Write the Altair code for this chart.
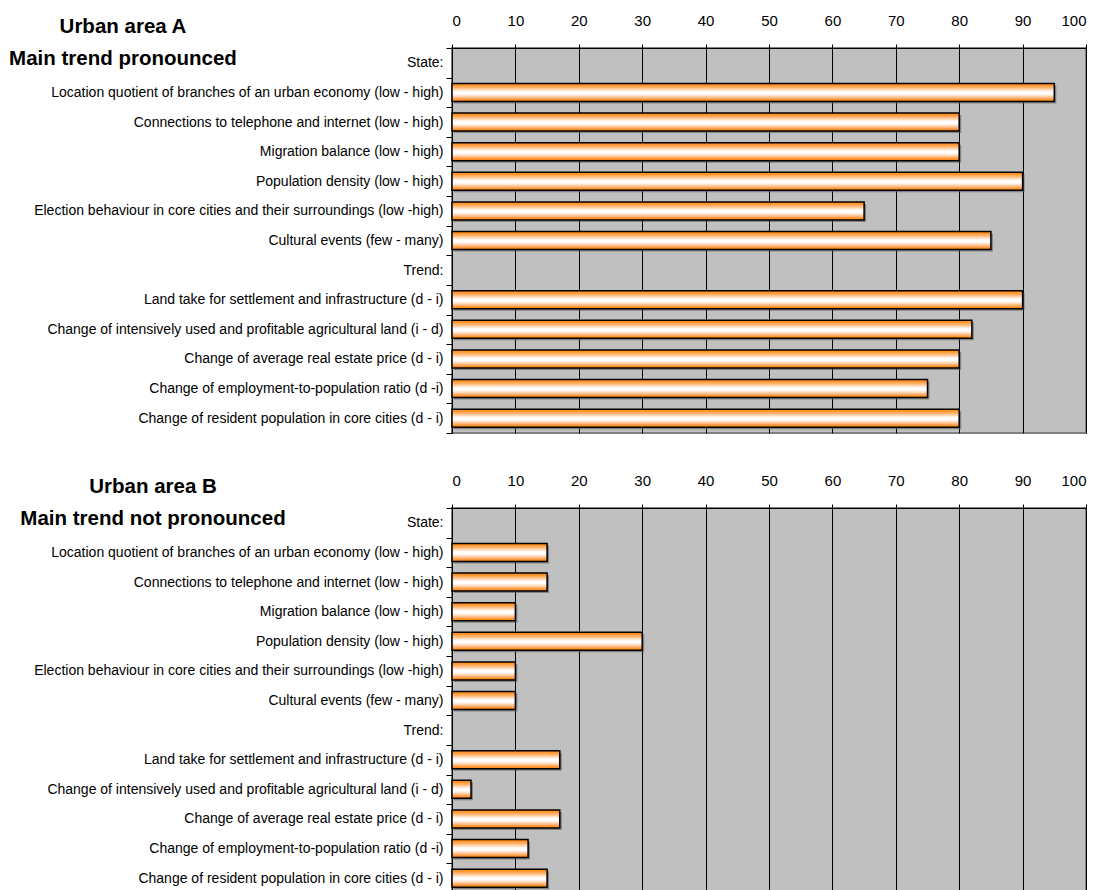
import altair as alt
import pandas as pd

categories = [
    "State:",
    "Location quotient of branches of an urban economy (low - high)",
    "Connections to telephone and internet (low - high)",
    "Migration balance (low - high)",
    "Population density (low - high)",
    "Election behaviour in core cities and their surroundings (low -high)",
    "Cultural events (few - many)",
    "Trend:",
    "Land take for settlement and infrastructure (d - i)",
    "Change of intensively used and profitable agricultural land (i - d)",
    "Change of average real estate price (d - i)",
    "Change of employment-to-population ratio (d -i)",
    "Change of resident population in core cities (d - i)",
]
values_a = [None, 95, 80, 80, 90, 65, 85, None, 90, 82, 80, 75, 80]
values_b = [None, 15, 15, 10, 30, 10, 10, None, 17, 3, 17, 12, 15]
x_ticks = [0, 10, 20, 30, 40, 50, 60, 70, 80, 90, 100]
title_a = ["Urban area A", "Main trend pronounced"]
title_b = ["Urban area B", "Main trend not pronounced"]

FONT = "Liberation Sans"

gradient = alt.Gradient(
    gradient="linear", x1=0, x2=0, y1=0, y2=1,
    stops=[
        alt.GradientStop(offset=0.0, color="#FF8000"),
        alt.GradientStop(offset=0.12, color="#FF9933"),
        alt.GradientStop(offset=0.24, color="#FFB878"),
        alt.GradientStop(offset=0.36, color="#FFDDC0"),
        alt.GradientStop(offset=0.47, color="#FFFFFF"),
        alt.GradientStop(offset=0.58, color="#FFFFFF"),
        alt.GradientStop(offset=0.70, color="#FFDCC0"),
        alt.GradientStop(offset=0.82, color="#FFB070"),
        alt.GradientStop(offset=0.92, color="#FF8F22"),
        alt.GradientStop(offset=1.0, color="#FF7A00"),
    ],
)


def panel(values, title_lines, title_dx):
    df = pd.DataFrame({"label": categories, "value": values}).dropna()
    y = alt.Y(
        "label:N",
        scale=alt.Scale(domain=categories, paddingInner=0, paddingOuter=0),
        axis=alt.Axis(
            title=None, tickBand="extent", labelFontSize=14, labelFont=FONT,
            labelColor="black", tickColor="black", tickSize=6, domainColor="black",
            labelPadding=3, labelLimit=0, grid=False, minExtent=446, maxExtent=446,
        ),
    )
    x = alt.X(
        "value:Q",
        scale=alt.Scale(domain=[0, 100], nice=False),
        axis=alt.Axis(
            orient="top", values=x_ticks, title=None, grid=True, gridColor="black",
            gridWidth=1, gridOpacity=1, tickSize=4, tickColor="black",
            domainColor="black", labelFontSize=15, labelPadding=16, labelFont=FONT,
            labelColor="black",
        ),
    )
    shadow = alt.Chart(df).mark_bar(
        size=18, color="#5a5a5a", xOffset=2, yOffset=2, opacity=0.6
    ).encode(x=x, y=y)
    bars = alt.Chart(df).mark_bar(
        size=18, color=gradient, stroke="black", strokeWidth=1.5
    ).encode(x=x, y=y)
    return alt.layer(shadow, bars).properties(
        width=634, height=385,
        title=alt.TitleParams(
            text=title_lines, anchor="start", frame="bounds", align="center",
            dx=title_dx, offset=-56, fontSize=20.5, font=FONT, fontWeight="bold",
            color="black", lineHeight=32,
        ),
    )


chart = alt.vconcat(
    panel(values_a, title_a, 117), panel(values_b, title_b, 147), spacing=37
).properties(
    padding={"left": 5, "top": 12, "right": 5, "bottom": 5}
).configure(
    background="white"
).configure_view(
    fill="#C0C0C0", stroke="#808080", strokeWidth=2
)

chart.save("out.html", embed_options={"renderer": "svg", "actions": False})
